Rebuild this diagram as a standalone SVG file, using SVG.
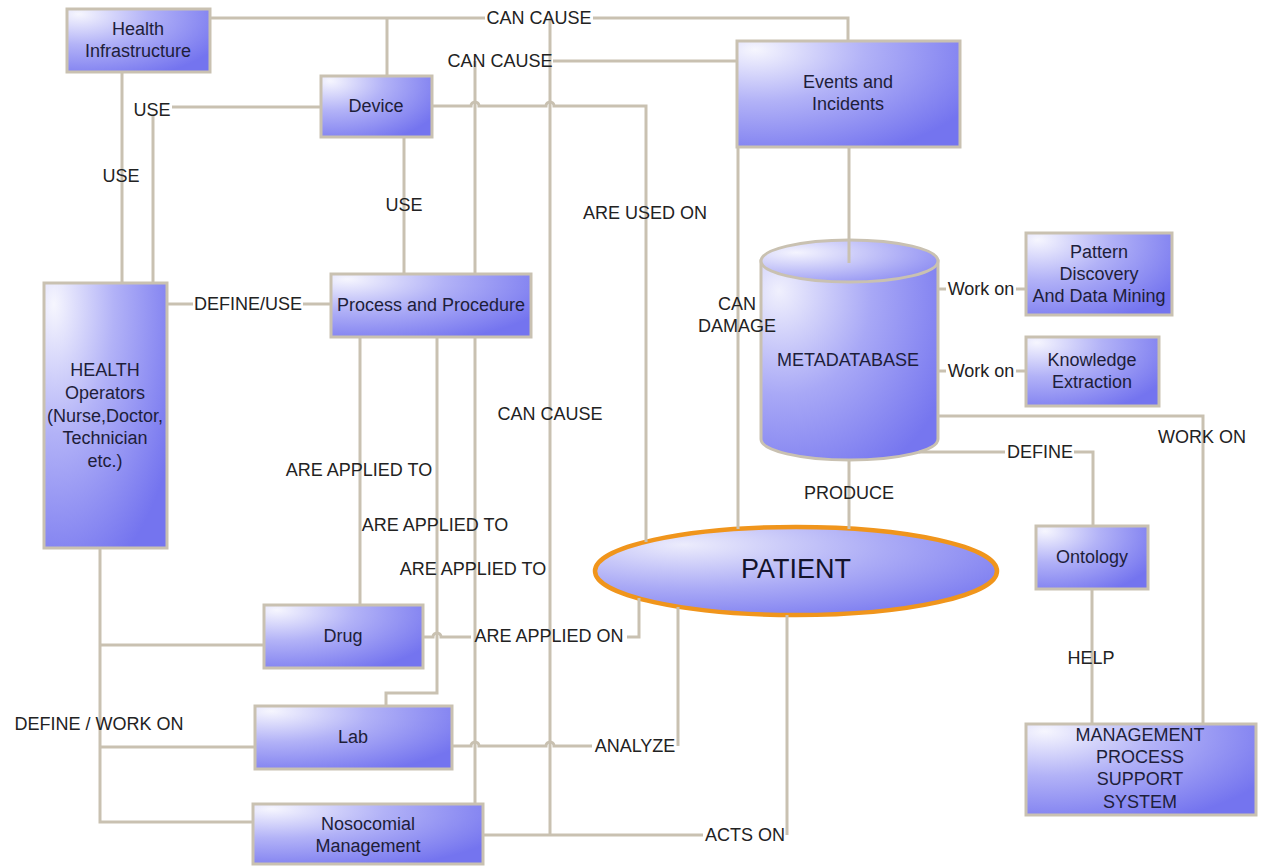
<svg xmlns="http://www.w3.org/2000/svg" width="1261" height="867" viewBox="0 0 1261 867">
  <defs>
    <radialGradient id="boxFill" cx="0.12" cy="0.12" r="1.05" fx="0.08" fy="0.08">
      <stop offset="0" stop-color="#f6f6fe"/>
      <stop offset="0.45" stop-color="#b2b2f7"/>
      <stop offset="1" stop-color="#7474ef"/>
    </radialGradient>
    <radialGradient id="cylFill" cx="0.15" cy="0.2" r="1.0" fx="0.1" fy="0.15">
      <stop offset="0" stop-color="#f0f0fd"/>
      <stop offset="0.5" stop-color="#a8a8f6"/>
      <stop offset="1" stop-color="#7676ef"/>
    </radialGradient>
    <radialGradient id="cylTop" cx="0.2" cy="0.3" r="0.9">
      <stop offset="0" stop-color="#f4f4fe"/>
      <stop offset="1" stop-color="#8c8cf2"/>
    </radialGradient>
    <radialGradient id="patFill" cx="0.28" cy="0.25" r="0.85" fx="0.22" fy="0.2">
      <stop offset="0" stop-color="#ececfc"/>
      <stop offset="0.55" stop-color="#ababf6"/>
      <stop offset="1" stop-color="#7c7cf0"/>
    </radialGradient>
    <style>
      .box { fill: url(#boxFill); stroke: #c9c1b1; stroke-width: 3; }
      .cyl { fill: url(#cylFill); stroke: #c9c1b1; stroke-width: 3; }
      .cyltop { fill: url(#cylTop); stroke: #c9c1b1; stroke-width: 3; }
      .pat { fill: url(#patFill); stroke: #f0951c; stroke-width: 4.5; }
      .ntext { font-family: "Liberation Sans", Arial, sans-serif; font-size: 18px; fill: #1e1e3a; text-anchor: middle; dominant-baseline: central; }
      .ptext { font-family: "Liberation Sans", Arial, sans-serif; font-size: 27px; fill: #14142c; text-anchor: middle; dominant-baseline: central; }
      .lbl { font-family: "Liberation Sans", Arial, sans-serif; font-size: 18px; fill: #222222; text-anchor: middle; dominant-baseline: central; }
      .wire { fill: none; stroke: #c9c1b1; stroke-width: 3; stroke-linejoin: miter; }
    </style>
  </defs>

  <rect width="1261" height="867" fill="#ffffff"/>

  <!-- nodes -->
  <g id="health-infrastructure">
    <rect class="box" x="67" y="9" width="143" height="63"/>
    <text class="ntext" x="138" y="29">Health</text>
    <text class="ntext" x="138" y="51">Infrastructure</text>
  </g>
  <g id="device">
    <rect class="box" x="321" y="76" width="111" height="61"/>
    <text class="ntext" x="376" y="106">Device</text>
  </g>
  <g id="events-incidents">
    <rect class="box" x="737" y="41" width="223" height="106"/>
    <text class="ntext" x="848" y="82">Events and</text>
    <text class="ntext" x="848" y="104">Incidents</text>
  </g>
  <g id="process-procedure">
    <rect class="box" x="331" y="274" width="200" height="63"/>
    <text class="ntext" x="431" y="305">Process and Procedure</text>
  </g>
  <g id="health-operators">
    <rect class="box" x="44" y="283" width="123" height="265"/>
    <text class="ntext" x="105" y="370">HEALTH</text>
    <text class="ntext" x="105" y="393">Operators</text>
    <text class="ntext" x="105" y="416">(Nurse,Doctor,</text>
    <text class="ntext" x="105" y="438">Technician</text>
    <text class="ntext" x="105" y="461">etc.)</text>
  </g>
  <g id="metadatabase">
    <path class="cyl" d="M761,261 V439 A88.5,21 0 0 0 938,439 V261 Z"/>
    <ellipse class="cyltop" cx="849.5" cy="261" rx="88.5" ry="21"/>
    <text class="ntext" x="848" y="360">METADATABASE</text>
  </g>
  <g id="pattern-discovery">
    <rect class="box" x="1026" y="233" width="146" height="82"/>
    <text class="ntext" x="1099" y="252">Pattern</text>
    <text class="ntext" x="1099" y="274">Discovery</text>
    <text class="ntext" x="1099" y="296">And Data Mining</text>
  </g>
  <g id="knowledge-extraction">
    <rect class="box" x="1026" y="337" width="133" height="69"/>
    <text class="ntext" x="1092" y="360">Knowledge</text>
    <text class="ntext" x="1092" y="382">Extraction</text>
  </g>
  <g id="patient">
    <ellipse class="pat" cx="796" cy="571" rx="201" ry="44"/>
    <text class="ptext" x="796" y="569">PATIENT</text>
  </g>
  <g id="ontology">
    <rect class="box" x="1036" y="526" width="112" height="63"/>
    <text class="ntext" x="1092" y="557">Ontology</text>
  </g>
  <g id="management-process-support-system">
    <rect class="box" x="1026" y="724" width="230" height="91"/>
    <text class="ntext" x="1140" y="735">MANAGEMENT</text>
    <text class="ntext" x="1140" y="757">PROCESS</text>
    <text class="ntext" x="1140" y="779">SUPPORT</text>
    <text class="ntext" x="1140" y="802">SYSTEM</text>
  </g>
  <g id="drug">
    <rect class="box" x="264" y="605" width="159" height="63"/>
    <text class="ntext" x="343" y="636">Drug</text>
  </g>
  <g id="lab">
    <rect class="box" x="255" y="706" width="197" height="63"/>
    <text class="ntext" x="353" y="737">Lab</text>
  </g>
  <g id="nosocomial-management">
    <rect class="box" x="253" y="804" width="230" height="60"/>
    <text class="ntext" x="368" y="824">Nosocomial</text>
    <text class="ntext" x="368" y="846">Management</text>
  </g>

  <!-- connectors -->
  <g id="connectors">
    <!-- Health Infrastructure / Device -> Events: CAN CAUSE (top line) -->
    <path class="wire" d="M210,18 H485 M593,18 H848 V41"/>
    <path class="wire" d="M387,18 V76"/>
    <!-- Nosocomial -> CAN CAUSE riser and ACTS ON -->
    <path class="wire" d="M550,18 V835"/>
    <path class="wire" d="M787,615 V835 M703,835 H483"/>
    <!-- Process -> Events: CAN CAUSE -->
    <path class="wire" d="M475,274 V61 M553,61 H737"/>
    <!-- Device -> Patient: ARE USED ON -->
    <path class="wire" d="M432,106 H471 a4,4 0 0 1 8,0 H546 a4,4 0 0 1 8,0 H646 V542"/>
    <!-- Device -> Health Operators: USE -->
    <path class="wire" d="M321,107 H172 M153,114 V283"/>
    <!-- Health Infrastructure -> Health Operators: USE -->
    <path class="wire" d="M122,72 V283"/>
    <!-- Device -> Process: USE -->
    <path class="wire" d="M404,137 V274"/>
    <!-- Health Operators -> Process: DEFINE/USE -->
    <path class="wire" d="M167,304 H193 M303,304 H331"/>
    <!-- Process -> Drug / Lab / Nosocomial: ARE APPLIED TO -->
    <path class="wire" d="M360,337 V605"/>
    <path class="wire" d="M437,337 V693 H386 V706"/>
    <path class="wire" d="M475,337 V804"/>
    <!-- Drug -> Patient: ARE APPLIED ON -->
    <path class="wire" d="M639,598 V637 H627 M471,637 H441 a4,4 0 0 0 -8,0 H423"/>
    <!-- Lab -> Patient: ANALYZE -->
    <path class="wire" d="M678,607 V746 M592,746 H554 a4,4 0 0 0 -8,0 H479 a4,4 0 0 0 -8,0 H452"/>
    <!-- Health Operators -> Drug / Lab / Nosocomial: DEFINE / WORK ON -->
    <path class="wire" d="M100,548 V822 H253 M100,645 H264 M100,747 H255"/>
    <!-- Events -> Patient: CAN DAMAGE -->
    <path class="wire" d="M738,147 V529"/>
    <!-- Events -> Metadatabase -->
    <path class="wire" d="M849,147 V263"/>
    <!-- Metadatabase -> Patient: PRODUCE -->
    <path class="wire" d="M849,460 V529"/>
    <!-- Metadatabase -> Pattern / Knowledge: Work on -->
    <path class="wire" d="M938,289 H946 M1016,289 H1026"/>
    <path class="wire" d="M938,371 H946 M1016,371 H1026"/>
    <!-- Metadatabase -> Management: WORK ON -->
    <path class="wire" d="M938,416 H1203 V724"/>
    <!-- Metadatabase -> Ontology: DEFINE -->
    <path class="wire" d="M919,452 H1005 M1074,452 H1093 V526"/>
    <!-- Ontology -> Management: HELP -->
    <path class="wire" d="M1092,589 V724"/>
  </g>

  <!-- connector labels -->
  <g id="labels">
    <text class="lbl" x="539" y="18">CAN CAUSE</text>
    <text class="lbl" x="500" y="61">CAN CAUSE</text>
    <text class="lbl" x="152" y="110">USE</text>
    <text class="lbl" x="121" y="176">USE</text>
    <text class="lbl" x="404" y="205">USE</text>
    <text class="lbl" x="645" y="213">ARE USED ON</text>
    <text class="lbl" x="248" y="304">DEFINE/USE</text>
    <text class="lbl" x="737" y="304">CAN</text>
    <text class="lbl" x="737" y="326">DAMAGE</text>
    <text class="lbl" x="550" y="414">CAN CAUSE</text>
    <text class="lbl" x="359" y="470">ARE APPLIED TO</text>
    <text class="lbl" x="435" y="525">ARE APPLIED TO</text>
    <text class="lbl" x="473" y="569">ARE APPLIED TO</text>
    <text class="lbl" x="549" y="636">ARE APPLIED ON</text>
    <text class="lbl" x="635" y="746">ANALYZE</text>
    <text class="lbl" x="745" y="835">ACTS ON</text>
    <text class="lbl" x="99" y="724">DEFINE / WORK ON</text>
    <text class="lbl" x="849" y="493">PRODUCE</text>
    <text class="lbl" x="981" y="289">Work on</text>
    <text class="lbl" x="981" y="371">Work on</text>
    <text class="lbl" x="1202" y="437">WORK ON</text>
    <text class="lbl" x="1040" y="452">DEFINE</text>
    <text class="lbl" x="1091" y="658">HELP</text>
  </g>
</svg>
